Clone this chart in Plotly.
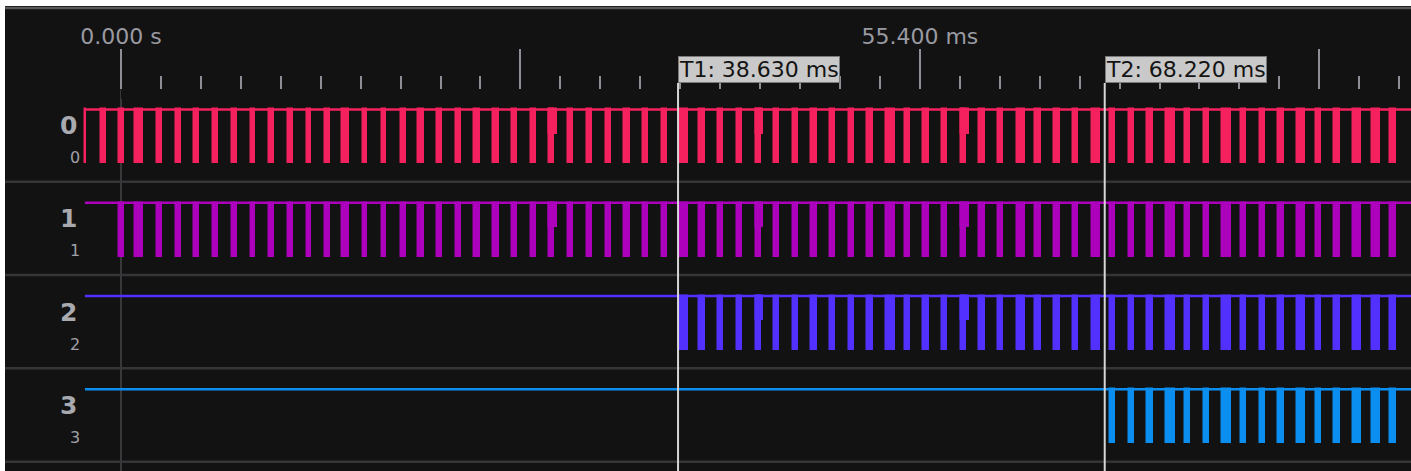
import plotly.graph_objects as go

# ---------------- data ----------------
channels = ["0", "1", "2", "3"]
channel_colors = ["#f5205e", "#ac00bc", "#5230ff", "#0a8ef0"]

# shared pulse train (low-going pulses), start time and width in ms
pulse_start_ms = [-2.50, -1.41, -0.12, 0.97, 2.52, 3.81, 5.08, 6.36, 7.68, 8.99,
                  10.28, 11.58, 12.88, 14.17, 15.31, 16.76, 18.08, 19.40, 20.62, 21.89,
                  23.23, 24.50, 25.82, 27.09, 28.41, 29.70, 31.02, 32.30, 33.61, 34.90,
                  36.18, 37.50, 38.72, 40.10, 41.40, 42.70, 44.04, 45.28, 46.58, 47.87,
                  49.17, 50.47, 51.76, 53.05, 54.35, 55.64, 56.94, 58.23, 59.52, 60.82,
                  62.12, 63.41, 64.70, 66.00, 67.32, 68.59, 69.88, 71.17, 72.47, 73.79,
                  75.08, 76.37, 77.67, 78.97, 80.26, 81.55, 82.85, 84.14, 85.44, 86.73,
                  88.02]
pulse_width_ms = [0.08, 0.35, 0.36, 0.56, 0.33, 0.33, 0.34, 0.35, 0.34, 0.33,
                  0.33, 0.33, 0.33, 0.33, 0.52, 0.33, 0.32, 0.33, 0.37, 0.39,
                  0.37, 0.37, 0.37, 0.37, 0.39, 0.36, 0.34, 0.37, 0.37, 0.37,
                  0.39, 0.37, 0.62, 0.37, 0.37, 0.37, 0.34, 0.35, 0.37, 0.37,
                  0.37, 0.37, 0.37, 0.60, 0.37, 0.37, 0.37, 0.35, 0.37, 0.37,
                  0.56, 0.37, 0.39, 0.37, 0.56, 0.37, 0.37, 0.37, 0.60, 0.37,
                  0.37, 0.58, 0.37, 0.37, 0.37, 0.58, 0.37, 0.37, 0.58, 0.60,
                  0.37]
# glitches: pulses whose upper part is wider
notch_pulse_index = [25, 36, 47]
notch_width_ms = [0.55, 0.50, 0.59]
notch_depth = 0.45

# first pulse index of the shared train present on each channel
first_pulse = [0, 2, 32, 55]
trace_start_ms = -2.50
trace_end_ms = 95.0

# cursors
cursor_names = ["T1", "T2"]
cursor_ms = [38.630, 68.220]

# time axis
major_tick_ms = [0.0, 27.7, 55.4, 83.1]
major_tick_text = ["0.000 s", "", "55.400 ms", ""]
minor_step_ms = 2.77

# ---------------- layout constants (pixels) ----------------
W, H = 1411, 471
ML, MT = 5, 6
PX_ZERO = 121.0
PX_PER_MS = 14.42
ROW_TOP = [88.4, 181.7, 275.0, 368.3]
ROW_BOTTOM = 461.7
HIGH_OFF, LOW_OFF = 21.0, 75.0
TICK_AXIS_Y = 89.5


def px_to_ms(px):
    return (px - PX_ZERO) / PX_PER_MS


def px_to_paper_x(px):
    return (px - ML) / (W - ML)


x_range = [px_to_ms(ML), px_to_ms(W)]

fig = go.Figure()

for ci, ch in enumerate(channels):
    color = channel_colors[ci]
    y_high = ROW_TOP[ci] + HIGH_OFF
    y_low = ROW_TOP[ci] + LOW_OFF
    idx = list(range(first_pulse[ci], len(pulse_start_ms)))
    xs = [pulse_start_ms[i] for i in idx]
    ws = [pulse_width_ms[i] for i in idx]
    # idle-high line
    fig.add_trace(go.Scatter(x=[trace_start_ms, trace_end_ms], y=[y_high, y_high],
                             mode="lines", line=dict(color=color, width=2.5),
                             hoverinfo="skip", showlegend=False))
    # low pulses
    fig.add_trace(go.Bar(x=xs, width=ws, offset=0, base=[y_high] * len(xs),
                         y=[y_low - y_high] * len(xs),
                         marker=dict(color=color, line=dict(width=1.5, color=color)),
                         hoverinfo="skip", showlegend=False))
    # glitch notches
    nx, nw = [], []
    for k, pi in enumerate(notch_pulse_index):
        if pi >= first_pulse[ci]:
            nx.append(pulse_start_ms[pi])
            nw.append(notch_width_ms[k])
    if nx:
        fig.add_trace(go.Bar(x=nx, width=nw, offset=0, base=[y_high] * len(nx),
                             y=[(y_low - y_high) * notch_depth] * len(nx),
                             marker=dict(color=color, line=dict(width=1.5, color=color)),
                             hoverinfo="skip", showlegend=False))

# dummy trace for the time-ruler axis
fig.add_trace(go.Scatter(x=[0], y=[0], xaxis="x2", yaxis="y2", mode="markers",
                         marker=dict(opacity=0), hoverinfo="skip", showlegend=False))

shapes = []
# top border
shapes.append(dict(type="line", xref="paper", yref="y", x0=0, x1=1, y0=7.9, y1=7.9,
                   line=dict(color="#5a5a5c", width=2.5), layer="above"))
# row separators
for y in ROW_TOP[1:] + [ROW_BOTTOM]:
    shapes.append(dict(type="line", xref="paper", yref="y", x0=0, x1=1, y0=y, y1=y,
                       line=dict(color="#353537", width=2.5), layer="below"))
# zero time grid line
shapes.append(dict(type="line", xref="x", yref="y", x0=0, x1=0, y0=TICK_AXIS_Y, y1=H,
                   line=dict(color="#38383a", width=2), layer="below"))
# cursor lines
for t in cursor_ms:
    shapes.append(dict(type="line", xref="x", yref="y", x0=t, x1=t, y0=83, y1=H,
                       line=dict(color="#d6d6d6", width=2), layer="above"))

annotations = []
for name, t in zip(cursor_names, cursor_ms):
    annotations.append(dict(xref="x", yref="y", x=t, y=69, xanchor="left", yanchor="middle",
                            text=f"{name}: {t:.3f} ms", showarrow=False,
                            font=dict(family="DejaVu Sans", size=22, color="#141414"),
                            bgcolor="#c9c9c9", bordercolor="#7a7a7a", borderwidth=1,
                            borderpad=0))
for ci, ch in enumerate(channels):
    annotations.append(dict(xref="paper", yref="y", x=px_to_paper_x(68), y=ROW_TOP[ci] + 37,
                            xanchor="center", yanchor="middle", text=f"<b>{ch}</b>",
                            showarrow=False,
                            font=dict(family="DejaVu Sans", size=25, color="#a9a9b0")))
    annotations.append(dict(xref="paper", yref="y", x=px_to_paper_x(75), y=ROW_TOP[ci] + 69,
                            xanchor="center", yanchor="middle", text=ch, showarrow=False,
                            font=dict(family="DejaVu Sans", size=16, color="#a0a0a8")))

tick_col = "#8e8e96"
fig.update_layout(
    width=W, height=H,
    margin=dict(l=ML, r=0, t=MT, b=0, pad=0, autoexpand=False),
    paper_bgcolor="#ffffff",
    plot_bgcolor="#121212",
    barmode="overlay",
    bargap=0,
    showlegend=False,
    xaxis=dict(range=x_range, visible=False, fixedrange=True, automargin=False),
    yaxis=dict(range=[H, MT], visible=False, fixedrange=True, automargin=False),
    xaxis2=dict(domain=[px_to_paper_x(PX_ZERO), 1], range=[0, px_to_ms(W)],
                anchor="y2", side="top", showline=False, showgrid=False, zeroline=False,
                automargin=False,
                tickmode="array", tickvals=major_tick_ms, ticktext=major_tick_text,
                ticks="outside", ticklen=40, tickwidth=2, tickcolor=tick_col,
                tickfont=dict(family="DejaVu Sans", size=22, color="#9a9aa2"),
                ticklabelstandoff=-4,
                minor=dict(tickmode="linear", tick0=0, dtick=minor_step_ms, ticks="outside",
                           ticklen=13, tickwidth=2, tickcolor=tick_col, showgrid=False),
                fixedrange=True),
    yaxis2=dict(domain=[(H - TICK_AXIS_Y) / (H - MT) - 0.02, (H - TICK_AXIS_Y) / (H - MT)],
                anchor="x2", visible=False, range=[0, 1], fixedrange=True, automargin=False),
    shapes=shapes,
    annotations=annotations,
)

fig.write_html("out.html")
